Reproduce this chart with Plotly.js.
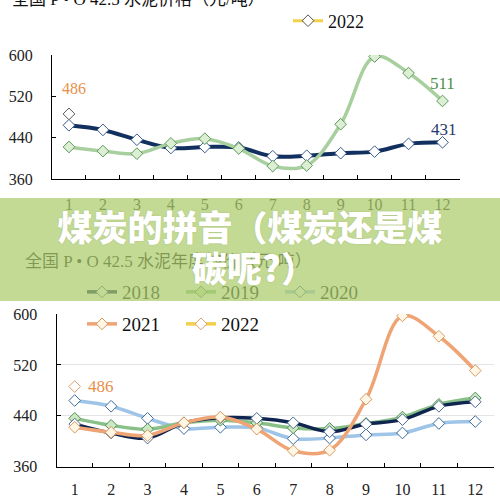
<!DOCTYPE html>
<html><head><meta charset="utf-8">
<script src="https://cdn.plot.ly/plotly-3.0.1.min.js"></script>
<style>
html,body{margin:0;padding:0;background:#fff;}
#wrap{position:relative;width:500px;height:500px;overflow:hidden;}
#chart{width:500px;height:500px;}
#banner{position:absolute;left:0;top:198px;width:500px;height:103px;background:rgba(172,204,108,0.72);color:#fff;font-family:"Noto Sans CJK SC";font-weight:900;font-size:35px;line-height:41px;text-align:center;padding-top:7px;box-sizing:border-box;text-shadow:0 0 2px rgba(0,0,0,0.12);}
</style></head>
<body><div id="wrap"><div id="chart"></div><div id="banner">煤炭的拼音（煤炭还是煤<br>&nbsp;碳呢?）</div></div>
<script>
// ---- data ----
var months = ['1','2','3','4','5','6','7','8','9','10','11','12'];
var p2018 = [427, 413, 405, 429, 437, 436, 429, 415, 427, 434, 455, 462];
var p2019 = [436, 425, 419, 429, 433, 429, 421, 420, 428, 438, 458, 468];
var p2020 = [464, 455, 436, 420, 422, 421, 404, 405, 410, 413, 428, 431];
var p2021 = [422, 414, 409, 429, 438, 419, 385, 386, 466, 597, 565, 511];
var p2022 = [486];
var topTitle = '全国 P • O 42.5 水泥价格（元/吨）';
var bottomTitle = '全国 P • O 42.5 水泥年度均价（元/吨）';

var serif = 'Liberation Serif, Noto Sans CJK SC, serif';
function diamond(fill, edge){ return {symbol:'diamond', size:9, color:fill, line:{color:edge, width:1}}; }

var traces = [
  // top chart
  {x: months, y: p2020, xaxis:'x', yaxis:'y', mode:'lines+markers', showlegend:false,
   line:{color:'#12305f', width:4, shape:'spline'}, marker: diamond('#ffffff','#3b5b8c')},
  {x: months, y: p2021, xaxis:'x', yaxis:'y', mode:'lines+markers', showlegend:false,
   line:{color:'#a8cf9e', width:3.5, shape:'spline'}, marker: diamond('#dcefd4','#5c9a57')},
  {x: months.slice(0,1), y: p2022, xaxis:'x', yaxis:'y', mode:'lines+markers', name:'2022', legend:'legend',
   line:{color:'#f2d04a', width:3}, marker: diamond('#ffffff','#555555')},
  // bottom chart
  {x: months, y: p2020, xaxis:'x2', yaxis:'y2', mode:'lines+markers', name:'2020', legend:'legend2', legendrank:3,
   line:{color:'#9ec4e8', width:3.5, shape:'spline'}, marker: diamond('#ffffff','#3d6a9a')},
  {x: months, y: p2019, xaxis:'x2', yaxis:'y2', mode:'lines+markers', name:'2019', legend:'legend2', legendrank:2,
   line:{color:'#88c088', width:3.5, shape:'spline'}, marker: diamond('#cce8c2','#4f8f50')},
  {x: months, y: p2018, xaxis:'x2', yaxis:'y2', mode:'lines+markers', name:'2018', legend:'legend2', legendrank:1,
   line:{color:'#0f2550', width:3.5, shape:'spline'}, marker: diamond('#ffffff','#4a6a90')},
  {x: months, y: p2021, xaxis:'x2', yaxis:'y2', mode:'lines+markers', name:'2021', legend:'legend3', legendrank:1,
   line:{color:'#eea474', width:3.5, shape:'spline'}, marker: diamond('#fff6e6','#d99a5e')},
  {x: months.slice(0,1), y: p2022, xaxis:'x2', yaxis:'y2', mode:'lines+markers', name:'2022', legend:'legend3', legendrank:2,
   line:{color:'#f2d04a', width:3.5}, marker: diamond('#ffffff','#d9a070')}
];

function xax(dom, anchor, standoff){
  return {domain:dom, anchor:anchor, type:'category', range:[-0.5,11.5], tickson:'boundaries',
    ticks:'inside', ticklen:4, tickcolor:'#000', showline:true, linecolor:'#000', linewidth:1,
    showgrid:false, zeroline:false, ticklabelstandoff:standoff,
    tickfont:{family:serif, size:16, color:'#222'}, fixedrange:true};
}
function yax(dom, anchor, grid){
  return {domain:dom, anchor:anchor, range:[360,600], tick0:360, dtick:80,
    ticks:'inside', ticklen:4, tickcolor:'#000', showline:true, linecolor:'#000', linewidth:1,
    showgrid:grid, gridcolor:'#e4e4e4', zeroline:false, ticklabelstandoff:15,
    tickfont:{family:serif, size:16, color:'#222'}, fixedrange:true};
}
function leg(x, y, size, ew){
  return {x:x, y:y, xanchor:'left', yanchor:'middle', orientation:'h', bgcolor:'rgba(0,0,0,0)',
    entrywidth:ew, entrywidthmode:'pixels', font:{family:serif, size:size, color:'#111'}};
}

var layout = {
  width:500, height:500, margin:{l:0, r:0, t:0, b:0},
  paper_bgcolor:'#ffffff', plot_bgcolor:'rgba(0,0,0,0)',
  xaxis: xax([0.104,0.919],'y', 11),
  yaxis: yax([0.642,0.89],'x', false),
  xaxis2: xax([0.113,0.987],'y2', 8),
  yaxis2: yax([0.0666,0.372],'x2', true),
  legend: leg(288/500, 1-21/500, 18, 54),
  legend2: leg(82/500, 1-292/500, 19, 54),
  legend3: leg(82/500, 1-324/500, 19, 54),
  annotations: [
    {xref:'paper', yref:'paper', x:10/500, y:1.002, xanchor:'left', yanchor:'middle', showarrow:false,
     text: topTitle, font:{family:serif, size:17, color:'#111'}},
    {xref:'paper', yref:'paper', x:23/500, y:1-261.5/500, xanchor:'left', yanchor:'middle', showarrow:false,
     text: bottomTitle, font:{family:serif, size:17, color:'#111'}},
    {xref:'x', yref:'y', x:0, y:p2022[0], showarrow:false, xshift:5, yshift:25,
     text:String(p2022[0]), font:{family:serif, size:16, color:'#e8904a'}},
    {xref:'x', yref:'y', x:11, y:p2021[11], showarrow:false, xshift:0, yshift:17,
     text:String(p2021[11]), font:{family:serif, size:17, color:'#4e8f4a'}},
    {xref:'x', yref:'y', x:11, y:p2020[11], showarrow:false, xshift:1, yshift:13,
     text:String(p2020[11]), font:{family:serif, size:17, color:'#1f3a70'}},
    {xref:'x2', yref:'y2', x:0, y:p2022[0], showarrow:false, xshift:26, yshift:0,
     text:String(p2022[0]), font:{family:serif, size:17, color:'#e8904a'}}
  ]
};

Plotly.newPlot('chart', traces, layout, {displayModeBar:false, staticPlot:true});
</script>
</body></html>
